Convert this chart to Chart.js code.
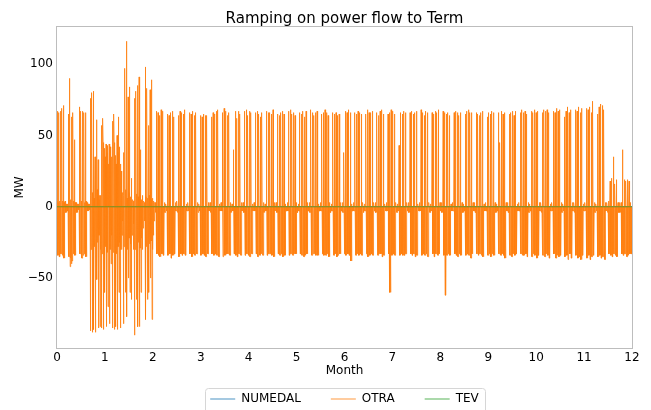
<!DOCTYPE html>
<html>
<head>
<meta charset="utf-8">
<script src="https://cdn.jsdelivr.net/npm/chart.js@4.4.1/dist/chart.umd.min.js"></script>
<style>
  html, body { margin: 0; padding: 0; background: #fff; }
</style>
</head>
<body>
<canvas id="myChart" width="651" height="410"></canvas>
<script>
const seriesNames = ['NUMEDAL', 'OTRA', 'TEV'];
const monthTicks = [0, 1, 2, 3, 4, 5, 6, 7, 8, 9, 10, 11, 12];
const yTicks = [-50, 0, 50, 100];

// OTRA: largest upward ramp of each day (MW), one row per week, Mon..Sun
const otraUp = [
  67, 66, 67, 69, 71, 4, 2,
  65, 90, 63, 66, 47, 3, 2,
  70, 67, 67, 66, 66, 3, 2,
  76, 80, 81, 35, 61, 33, 8,
  57, 62, 41, 44, 43, 44, 38,
  60, 65, 36, 50, 63, 30, 5,
  38, 97, 116, 77, 84, 20, 5,
  76, 81, 85, 91, 40, 8, 4,
  98, 83, 57, 82, 89, 4, 3,
  67, 66, 64, 68, 67, 3, 2,
  65, 64, 66, 67, 63, 3, 4,
  64, 67, 66, 65, 68, 2, 3,
  66, 65, 67, 64, 66, 3, 2,
  64, 63, 65, 64, 64, 3, 3,
  63, 66, 65, 67, 68, 2, 3,
  66, 69, 67, 64, 66, 3, 2,
  40, 67, 62, 67, 65, 3, 3,
  67, 68, 64, 67, 66, 2, 3,
  66, 67, 65, 63, 66, 3, 2,
  67, 66, 66, 65, 68, 3, 3,
  65, 64, 66, 67, 65, 2, 3,
  67, 68, 65, 66, 64, 3, 2,
  66, 65, 67, 63, 67, 3, 3,
  68, 66, 64, 66, 67, 2, 3,
  65, 66, 68, 66, 64, 3, 2,
  66, 65, 66, 64, 65, 3, 3,
  38, 67, 66, 68, 66, 2, 3,
  66, 65, 67, 66, 65, 3, 2,
  65, 68, 66, 66, 67, 3, 3,
  66, 64, 67, 68, 65, 2, 3,
  65, 66, 68, 67, 65, 3, 2,
  43, 66, 65, 67, 66, 3, 3,
  66, 67, 65, 66, 67, 2, 3,
  68, 66, 64, 67, 66, 3, 2,
  66, 65, 67, 66, 68, 3, 3,
  67, 66, 65, 66, 64, 2, 3,
  66, 67, 66, 64, 66, 3, 2,
  65, 67, 68, 66, 66, 3, 3,
  66, 65, 64, 66, 67, 2, 3,
  63, 66, 65, 67, 66, 3, 2,
  66, 45, 67, 65, 66, 3, 3,
  65, 66, 67, 64, 67, 2, 3,
  66, 68, 66, 67, 65, 3, 2,
  67, 66, 68, 66, 67, 3, 3,
  66, 68, 67, 68, 66, 2, 3,
  67, 66, 69, 67, 68, 3, 2,
  63, 67, 70, 66, 68, 3, 3,
  68, 67, 70, 66, 69, 2, 3,
  69, 68, 70, 66, 74, 3, 2,
  65, 70, 72, 71, 68, 3, 3,
  4, 18, 20, 35, 16, 19, 3,
  3, 3, 40, 19, 18, 19, 18,
  3
];

// OTRA: largest downward ramp of each day (MW)
const otraDown = [
  -34, -35, -33, -34, -36, -4, -3,
  -35, -42, -40, -33, -34, -4, -2,
  -33, -36, -34, -33, -35, -3, -2,
  -87, -88, -86, -88, -51, -85, -84,
  -85, -86, -60, -84, -70, -82, -40,
  -85, -86, -84, -86, -60, -85, -20,
  -82, -60, -77, -50, -60, -65, -30,
  -90, -65, -84, -84, -60, -30, -10,
  -79, -65, -60, -50, -79, -20, -4,
  -33, -34, -35, -33, -34, -4, -3,
  -34, -33, -36, -34, -33, -3, -4,
  -35, -33, -34, -33, -34, -3, -3,
  -33, -35, -33, -34, -33, -4, -3,
  -34, -33, -34, -35, -33, -3, -4,
  -33, -34, -33, -34, -35, -3, -3,
  -35, -34, -33, -33, -34, -4, -3,
  -33, -34, -35, -33, -34, -3, -4,
  -34, -33, -34, -35, -33, -3, -3,
  -33, -35, -34, -33, -34, -4, -3,
  -34, -33, -33, -34, -35, -3, -4,
  -33, -34, -33, -35, -34, -3, -3,
  -34, -33, -34, -33, -33, -4, -3,
  -33, -34, -35, -34, -33, -3, -4,
  -34, -33, -33, -34, -34, -3, -3,
  -33, -34, -34, -33, -35, -4, -3,
  -34, -33, -35, -34, -33, -3, -4,
  -33, -34, -33, -34, -38, -3, -3,
  -34, -33, -34, -33, -34, -4, -3,
  -33, -35, -34, -33, -34, -3, -4,
  -34, -33, -33, -35, -34, -3, -3,
  -33, -60, -34, -33, -34, -4, -3,
  -34, -33, -34, -34, -33, -3, -4,
  -33, -34, -33, -35, -34, -3, -3,
  -34, -33, -34, -33, -35, -4, -3,
  -33, -35, -33, -34, -33, -3, -4,
  -34, -62, -34, -33, -34, -3, -3,
  -33, -34, -35, -33, -34, -4, -3,
  -34, -33, -34, -36, -33, -3, -4,
  -33, -34, -33, -34, -35, -3, -3,
  -34, -33, -35, -33, -34, -4, -3,
  -33, -34, -33, -34, -36, -3, -4,
  -34, -35, -33, -34, -33, -3, -3,
  -33, -34, -34, -33, -35, -4, -3,
  -35, -33, -34, -36, -34, -3, -4,
  -34, -35, -33, -34, -36, -3, -3,
  -33, -36, -34, -35, -34, -4, -3,
  -35, -34, -37, -33, -36, -3, -4,
  -34, -36, -35, -37, -34, -3, -3,
  -36, -34, -37, -35, -34, -4, -3,
  -35, -34, -36, -35, -37, -3, -4,
  -33, -34, -35, -33, -34, -35, -4,
  -4, -33, -34, -33, -35, -34, -33,
  -33
];

// OTRA, irregular winter weeks (first 9 weeks): the many smaller ramps of each day
const otraUpWinter = [
  3, 4, 3, 4, 3, 2, 2,
  4, 5, 3, 4, 3, 2, 2,
  3, 4, 4, 3, 4, 2, 2,
  8, 10, 6, 9, 12, 5, 8,
  40, 45, 35, 38, 30, 42, 35,
  40, 45, 30, 38, 42, 25, 10,
  8, 12, 6, 10, 7, 5, 4,
  6, 9, 7, 8, 5, 4, 3,
  7, 6, 8, 5, 6, 3, 3
];
const otraDownWinter = [
  -34, -35, -33, -34, -36, -4, -3,
  -35, -36, -38, -33, -34, -4, -2,
  -33, -36, -34, -33, -35, -3, -2,
  -30, -32, -28, -31, -25, -20, -30,
  -33, -30, -28, -32, -25, -30, -20,
  -32, -30, -33, -28, -25, -30, -10,
  -28, -25, -30, -22, -26, -20, -12,
  -30, -27, -25, -29, -22, -15, -6,
  -28, -30, -26, -24, -30, -10, -4
];

// NUMEDAL and TEV stay flat on zero, one value per month tick
const numedal = [0, 0, 0, 0, 0, 0, 0, 0, 0, 0, 0, 0, 0];
const tev = [0, 0, 0, 0, 0, 0, 0, 0, 0, 0, 0, 0, 0];

const FONT = 'DejaVu Sans';
const legendColors = ['rgba(31,119,180,0.4)', 'rgba(255,127,14,0.4)', 'rgba(44,160,44,0.4)'];
const daysPerMonth = 365 / 12;

// each day: rest, the big up-ramp, then the down-ramps of the afternoon
const otraPts = [];
otraUp.forEach((up, d) => {
  const down = otraDown[d];
  const u2 = d < otraUpWinter.length ? otraUpWinter[d] : 0;
  const d2 = d < otraDownWinter.length ? otraDownWinter[d] : down;
  const seq = [0, up, u2, down, u2, d2, u2, d2];
  seq.forEach((v, k) => otraPts.push({ x: (d + k / 8) / daysPerMonth, y: v }));
});
otraPts.push({ x: 12, y: 0 });

const flat = (arr) => arr.map((v, i) => ({ x: monthTicks[i], y: v }));

const framePlugin = {
  id: 'frame',
  afterLayout(chart) {
    const lg = chart.legend;
    lg.top = 363;
    lg.bottom = 420;
  },
  afterDatasetsDraw(chart) {
    const { ctx, chartArea: a } = chart;
    ctx.save();
    ctx.strokeStyle = '#bdbdbd';
    ctx.lineWidth = 1;
    ctx.strokeRect(a.left - 0.5, a.top - 0.5, a.right - a.left + 1, a.bottom - a.top + 1);
    ctx.restore();
  },
  afterDraw(chart) {
    const { ctx } = chart;
    const boxes = chart.legend.legendHitBoxes;
    if (!boxes || !boxes.length) return;
    const last = boxes[boxes.length - 1];
    const l = boxes[0].left - 5;
    const r = last.left + last.width + 6;
    ctx.save();
    ctx.strokeStyle = '#d6d6d6';
    ctx.lineWidth = 1;
    ctx.beginPath();
    ctx.roundRect(Math.round(l) + 0.5, 388.5, Math.round(r - l), 30, 3);
    ctx.stroke();
    ctx.restore();
  }
};

const ctx = document.getElementById('myChart');

new Chart(ctx, {
  type: 'line',
  data: {
    datasets: [
      {
        label: seriesNames[0],
        data: flat(numedal),
        borderColor: '#1f77b4',
        borderWidth: 1,
        pointRadius: 0,
        order: 2
      },
      {
        label: seriesNames[1],
        data: otraPts,
        borderColor: '#ff7f0e',
        borderWidth: 0.8,
        pointRadius: 0,
        order: 1
      },
      {
        label: seriesNames[2],
        data: flat(tev),
        borderColor: 'rgba(44,160,44,0.65)',
        borderWidth: 1,
        pointRadius: 0,
        order: 0
      }
    ]
  },
  options: {
    responsive: false,
    maintainAspectRatio: false,
    devicePixelRatio: 1,
    animation: false,
    events: [],
    parsing: false,
    normalized: true,
    layout: { padding: { left: 0, right: 19, top: 0, bottom: 0 } },
    elements: { line: { tension: 0 } },
    scales: {
      x: {
        type: 'linear',
        min: 0,
        max: 12,
        afterFit: (s) => { s.height = 32; },
        afterBuildTicks: (s) => { s.ticks = monthTicks.map(v => ({ value: v })); },
        grid: { display: false, drawTicks: false },
        border: { display: false },
        ticks: {
          padding: 3,
          color: '#000',
          font: { family: FONT, size: 12 },
          maxRotation: 0,
          autoSkip: false
        },
        title: {
          display: true,
          text: 'Month',
          color: '#000',
          font: { family: FONT, size: 12 },
          padding: { top: 0, bottom: 2 }
        }
      },
      y: {
        type: 'linear',
        min: -99,
        max: 126,
        afterFit: (s) => { s.width = 57; },
        afterBuildTicks: (s) => { s.ticks = yTicks.map(v => ({ value: v })); },
        grid: { display: false, drawTicks: false },
        border: { display: false },
        ticks: {
          padding: 4,
          color: '#000',
          font: { family: FONT, size: 12 },
          callback: (v) => (v < 0 ? '\u2212' + Math.abs(v) : String(v))
        },
        title: {
          display: true,
          text: 'MW',
          color: '#000',
          font: { family: FONT, size: 12 },
          padding: { top: 13, bottom: 0 }
        }
      }
    },
    plugins: {
      title: {
        display: true,
        fullSize: false,
        text: 'Ramping on power flow to Term',
        color: '#000',
        font: { family: FONT, size: 15, weight: 'normal', lineHeight: 1 },
        padding: { top: 12, bottom: 0 }
      },
      legend: {
        position: 'bottom',
        fullSize: false,
        maxHeight: 30,
        labels: {
          boxWidth: 25,
          boxHeight: 2,
          padding: 30,
          color: '#000',
          font: { family: FONT, size: 12 },
          sort: (a, b) => a.datasetIndex - b.datasetIndex,
          generateLabels: (chart) =>
            Chart.defaults.plugins.legend.labels.generateLabels(chart).map(item =>
              Object.assign(item, {
                fillStyle: legendColors[item.datasetIndex],
                strokeStyle: legendColors[item.datasetIndex],
                lineWidth: 0
              }))
        }
      },
      tooltip: { enabled: false }
    }
  },
  plugins: [framePlugin]
});
</script>
</body>
</html>
